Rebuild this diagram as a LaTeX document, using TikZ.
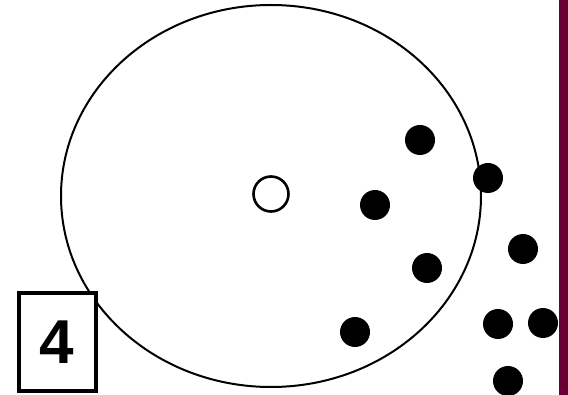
\documentclass[tikz,border=0pt]{standalone}
\usepackage{fontspec}
\setsansfont{Liberation Sans}
\usepackage{tikz}
\usetikzlibrary{shapes.geometric}
\definecolor{barmaroon}{RGB}{104,0,52}
\tikzset{
  rim/.style    ={draw, ellipse, line width=2pt, inner sep=0pt},
  hollow/.style ={draw, circle, minimum size=35pt, inner sep=0pt,
                  line width=2.6pt},
  dot/.style    ={fill=black, circle, minimum size=30pt, inner sep=0pt},
  numbox/.style ={draw, line width=4pt, minimum width=77pt,
                  minimum height=98pt, inner sep=0pt,
                  font=\sffamily\bfseries\fontsize{62}{62}\selectfont},
}
\begin{document}
\begin{tikzpicture}[x=1pt, y=-1pt]
  \useasboundingbox (0,0) rectangle (568,395);
  % side bar
  \fill[barmaroon] (559,0) rectangle (568,395);
  % big circle and centre
  \node[rim, minimum width=420pt, minimum height=382pt] (disc) at (271,196) {};
  \node[hollow] (mid) at (271,194) {};
  % dots, inside and outside the rim
  \node[dot] (d1) at (420,140) {};
  \node[dot] (d2) at (488,178) {};
  \node[dot] (d3) at (375,205) {};
  \node[dot] (d4) at (523,249) {};
  \node[dot] (d5) at (427,268) {};
  \node[dot] (d6) at (355,332) {};
  \node[dot] (d7) at (498,324) {};
  \node[dot] (d8) at (543,323) {};
  \node[dot] (d9) at (508,381) {};
  % label box
  \node[numbox, fill=white] (tag) at (57,342) {4};
\end{tikzpicture}
\end{document}
